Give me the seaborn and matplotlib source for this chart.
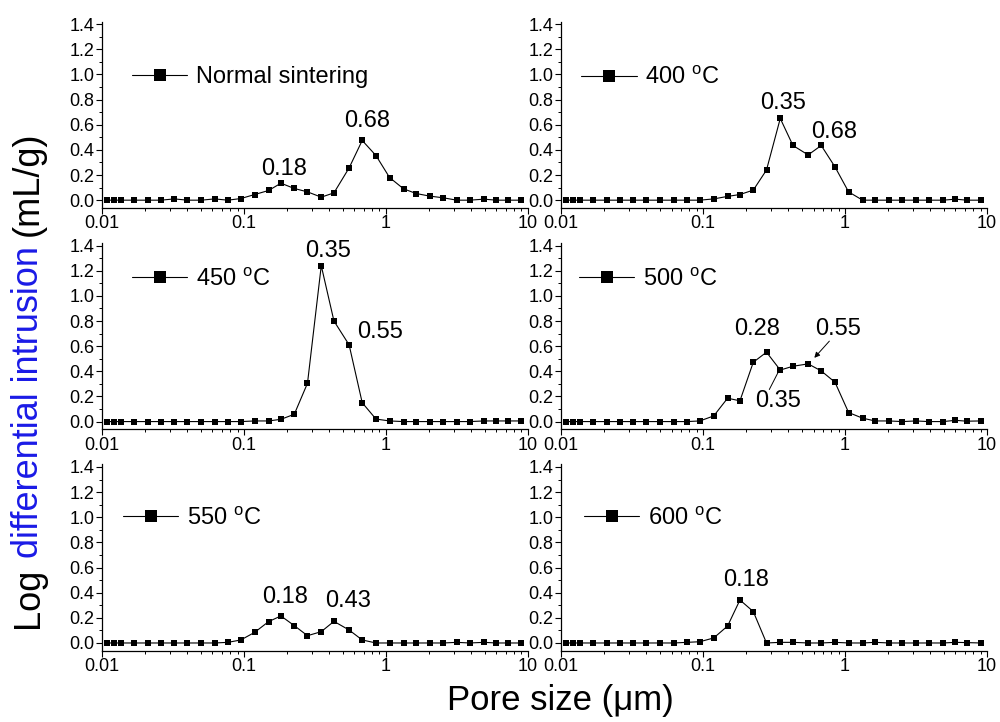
import numpy as np
import pandas as pd
import seaborn as sns
import matplotlib.pyplot as plt
from matplotlib.ticker import MultipleLocator, FixedLocator, NullFormatter

# pore size (um), same grid for every sample
pore_size = [0.0108, 0.0122, 0.0137, 0.0169, 0.021, 0.026, 0.0323, 0.040, 0.050, 0.062,
             0.077, 0.095, 0.119, 0.149, 0.182, 0.226, 0.28, 0.35, 0.43, 0.55,
             0.68, 0.85, 1.06, 1.33, 1.63, 2.04, 2.53, 3.15, 3.88, 4.9, 6.0, 7.2, 9.0]

normal = [0, 0, 0, 0, 0, 0, 0.01, 0, 0, 0.01, 0, 0.013, 0.045, 0.077, 0.135, 0.093, 0.066,
          0.024, 0.058, 0.257, 0.475, 0.355, 0.18, 0.09, 0.053, 0.032, 0.019, 0, 0, 0.008, 0, 0, 0]
t400 = [0, 0, 0, 0, 0, 0, 0, 0, 0, 0, 0, 0, 0.01, 0.03, 0.045, 0.08, 0.24, 0.65, 0.435,
        0.36, 0.435, 0.265, 0.066, 0, 0, 0, 0, 0, 0, 0, 0.008, 0, 0]
t450 = [0, 0, 0, 0, 0, 0, 0, 0, 0, 0, 0, 0, 0.005, 0.005, 0.018, 0.058, 0.305, 1.24, 0.80,
        0.61, 0.15, 0.02, 0.005, 0, 0, 0, 0, 0, 0, 0.005, 0.005, 0.005, 0.005]
t500 = [0, 0, 0, 0, 0, 0, 0, 0, 0, 0, 0, 0.005, 0.045, 0.186, 0.165, 0.472, 0.552, 0.41,
        0.44, 0.459, 0.403, 0.313, 0.072, 0.027, 0.005, 0.005, 0, 0.005, 0, 0, 0.01, 0.003, 0.005]
t550 = [0, 0, 0, 0, 0, 0, 0, 0, 0, 0, 0.005, 0.024, 0.085, 0.17, 0.215, 0.138, 0.058, 0.09,
        0.172, 0.103, 0.024, 0, 0, 0, 0, 0, 0, 0.005, 0, 0.005, 0, 0, 0]
t600 = [0, 0, 0, 0, 0, 0, 0, 0, 0, 0, 0.005, 0.01, 0.04, 0.135, 0.342, 0.25, 0, 0.005,
        0.005, 0, 0, 0.005, 0, 0, 0.005, 0, 0, 0, 0, 0, 0.005, 0.003, 0]

labels = ['Normal sintering', '400 $^\\mathrm{o}$C', '450 $^\\mathrm{o}$C',
          '500 $^\\mathrm{o}$C', '550 $^\\mathrm{o}$C', '600 $^\\mathrm{o}$C']
series = [normal, t400, t450, t500, t550, t600]

# peak labels: (text, x, y)
peaks = [
    [('0.18', 0.191, 0.247), ('0.68', 0.731, 0.63)],
    [('0.35', 0.364, 0.77), ('0.68', 0.84, 0.543)],
    [('0.35', 0.393, 1.355), ('0.55', 0.907, 0.71)],
    [('0.28', 0.239, 0.737), ('0.55', 0.90, 0.737), ('0.35', 0.339, 0.16)],
    [('0.18', 0.194, 0.368), ('0.43', 0.543, 0.33)],
    [('0.18', 0.201, 0.50)],
]
legend_pos = [(0.07, 0.703), (0.047, 0.696), (0.07, 0.804),
              (0.042, 0.804), (0.049, 0.709), (0.054, 0.709)]

sns.set_style('ticks')
plt.rcParams['font.family'] = ['Liberation Sans', 'DejaVu Sans']
plt.rcParams['mathtext.fontset'] = 'custom'
plt.rcParams['mathtext.rm'] = 'Liberation Sans'
plt.rcParams['mathtext.it'] = 'Liberation Sans:italic'
for k in ('text.color', 'axes.labelcolor', 'xtick.color', 'ytick.color', 'axes.edgecolor'):
    plt.rcParams[k] = 'black'

fig, axes = plt.subplots(3, 2, figsize=(10, 7.22), dpi=100)
fig.subplots_adjust(left=0.102, right=0.987, bottom=0.099, top=0.970, wspace=0.0775, hspace=0.19)

for i, ax in enumerate(axes.flat):
    df = pd.DataFrame({'size': pore_size, 'val': series[i]})
    sns.lineplot(data=df, x='size', y='val', ax=ax, color='black', linewidth=0.8,
                 marker='s', markersize=4.2, markeredgecolor='black', markeredgewidth=0,
                 label=labels[i], legend=False)
    ax.set_xscale('log')
    ax.set_xlim(0.01, 10)
    ax.set_ylim(-0.06, 1.42)
    ax.xaxis.set_major_locator(FixedLocator([0.01, 0.1, 1, 10]))
    ax.set_xticklabels(['0.01', '0.1', '1', '10'])
    minors = [m * 10.0 ** e for e in (-2, -1, 0) for m in range(2, 10)]
    ax.xaxis.set_minor_locator(FixedLocator(minors))
    ax.xaxis.set_minor_formatter(NullFormatter())
    ax.set_yticks(np.arange(0, 1.41, 0.2))
    ax.set_yticklabels(['%.1f' % v for v in np.arange(0, 1.41, 0.2)])
    ax.yaxis.set_minor_locator(MultipleLocator(0.1))
    ax.tick_params(which='major', direction='out', length=4, width=0.8, labelsize=13, pad=1.5)
    ax.tick_params(which='minor', direction='out', length=2.5, width=0.7)
    ax.set_xlabel('')
    ax.set_ylabel('')
    for s in ('left', 'bottom'):
        ax.spines[s].set_linewidth(0.9)
    sns.despine(ax=ax)

    for txt, x, y in peaks[i]:
        ax.text(x, y, txt, fontsize=17, ha='center', va='center')

    ax.legend(loc='center left', bbox_to_anchor=legend_pos[i], frameon=False, fontsize=17,
              handlelength=2.35, handletextpad=0.35, borderpad=0, borderaxespad=0,
              markerscale=2.0)

# arrows in the 500 C panel
ax = axes[1, 1]
ax.annotate('', xy=(0.608, 0.507), xytext=(0.776, 0.64),
            arrowprops=dict(arrowstyle='-|>', color='black', lw=0.7, mutation_scale=8, shrinkA=0, shrinkB=0))
ax.annotate('', xy=(0.341, 0.40), xytext=(0.293, 0.255),
            arrowprops=dict(arrowstyle='-', color='black', lw=0.7, shrinkA=0, shrinkB=0))

fig.text(0.56, 0.0166, 'Pore size (\u03bcm)', fontsize=25, ha='center', va='baseline')

# y label with a blue middle part
renderer = fig.canvas.get_renderer()
pieces = [('Log', 'black'), ('differential intrusion', '#1a1ae6'), ('(mL/g)', 'black')]
texts = [fig.text(0.038, 0, s, rotation=90, rotation_mode='anchor', ha='left',
                  va='baseline', fontsize=26, color=c) for s, c in pieces]
probe1 = fig.text(0, 0, 'x x', fontsize=26)
probe2 = fig.text(0, 0, 'xx', fontsize=26)
space = (probe1.get_window_extent(renderer).width - probe2.get_window_extent(renderer).width) / fig.bbox.height
probe1.remove()
probe2.remove()
lengths = [t.get_window_extent(renderer).height / fig.bbox.height for t in texts]
y0 = 0.474 - (sum(lengths) + 2 * space) / 2
for t, L in zip(texts, lengths):
    t.set_y(y0)
    y0 += L + space

fig.savefig('out.png', dpi=100)
